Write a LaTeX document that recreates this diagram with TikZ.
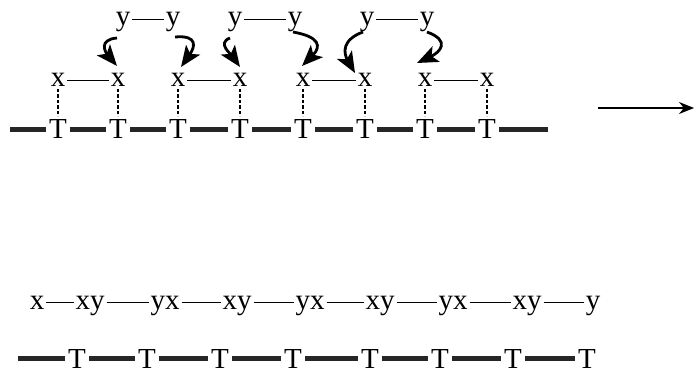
\documentclass[tikz,border=0pt]{standalone}
\usepackage{fontspec}
\setmainfont{Liberation Serif}
\usetikzlibrary{arrows.meta}
\begin{document}
\begin{tikzpicture}[x=1pt,y=1pt,
  lett/.style={font=\fontsize{29}{30}\selectfont, inner sep=0pt, outer sep=2pt,
    anchor=base, text height=13pt, text depth=0pt},
  tee/.style={font=\fontsize{29}{30}\selectfont, inner sep=0pt, outer sep=3.5pt,
    anchor=base, text height=19pt, text depth=0pt},
  bar/.style={line width=4.8pt, draw=black!85},
  bond/.style={line width=1.2pt},
  link/.style={line width=1.3pt, dash pattern=on 3.5pt off 2pt},
  curly/.style={line width=2.8pt, -{Stealth[length=21pt,width=17pt,inset=5pt]}},
  pointer/.style={line width=1.3pt, -{Stealth[length=15pt,width=12pt]}}]
\useasboundingbox (0,0) rectangle (694,370);

% upper strand: T sites with x partners and y partners
\foreach \i/\x in {1/58,2/118,3/178,4/240,5/303,6/365,7/425,8/487}{
  \node[tee] (T\i) at (\x,231) {T};
  \node[lett] (x\i) at (\x,283) {x};
}
\foreach \i/\x in {1/123,2/173,3/235,4/295,5/367,6/427}
  \node[lett] (y\i) at (\x,344) {y};

\coordinate (ta) at (10,0);
\coordinate (tb) at (548,0);
\draw[bar] (ta |- T1) -- (T1);
\foreach \i/\j in {1/2,2/3,3/4,4/5,5/6,6/7,7/8}
  \draw[bar] (T\i) -- (T\j);
\draw[bar] (T8) -- (tb |- T8);

\foreach \i in {1,...,8}
  \draw[link] (x\i.south) -- (T\i.north);

\foreach \i/\j in {1/2,3/4,5/6,7/8}
  \draw[bond] (x\i) -- (x\j);
\foreach \i/\j in {1/2,3/4,5/6}
  \draw[bond] (y\i) -- (y\j);

% transfer arrows from y to x
\draw[curly] ([shift={(-6,-12)}]y1.base) to[out=185,in=130,looseness=1.7] ([shift={(-1,21)}]x2.base);
\draw[curly] ([shift={(2,-11)}]y2.base) to[out=5,in=55,looseness=2.0] ([shift={(3,20)}]x3.base);
\draw[curly] ([shift={(-5,-12)}]y3.base) to[out=200,in=125,looseness=1.2] ([shift={(0,20)}]x4.base);
\draw[curly] ([shift={(-2,-6)}]y4.base) to[out=-10,in=45,looseness=2.0] ([shift={(-1,21)}]x5.base);
\draw[curly] ([shift={(-4,-6)}]y5.base) to[out=200,in=120,looseness=1.4] ([shift={(-10,14)}]x6.base);
\draw[curly] ([shift={(0,-6)}]y6.base) to[out=-20,in=25,looseness=2.0] ([shift={(-8,24)}]x7.base);

% reaction arrow
\coordinate (ra) at (598,262);
\coordinate (rb) at (694,262);
\draw[pointer] (ra) -- (rb);

% lower strand: product
\foreach \i/\x/\t in {1/37/x,2/90/xy,3/165/yx,4/237/xy,5/310/yx,6/380/xy,7/453/yx,8/527/xy,9/593/y}
  \node[lett] (b\i) at (\x,61) {\t};
\foreach \i/\j in {1/2,2/3,3/4,4/5,5/6,6/7,7/8,8/9}
  \draw[bond] (b\i) -- (b\j);

\foreach \i/\x in {1/77,2/147,3/220,4/293,5/370,6/440,7/513,8/587}
  \node[tee] (B\i) at (\x,2) {T};
\coordinate (ba) at (18,0);
\draw[bar] (ba |- B1) -- (B1);
\foreach \i/\j in {1/2,2/3,3/4,4/5,5/6,6/7,7/8}
  \draw[bar] (B\i) -- (B\j);
\end{tikzpicture}
\end{document}
